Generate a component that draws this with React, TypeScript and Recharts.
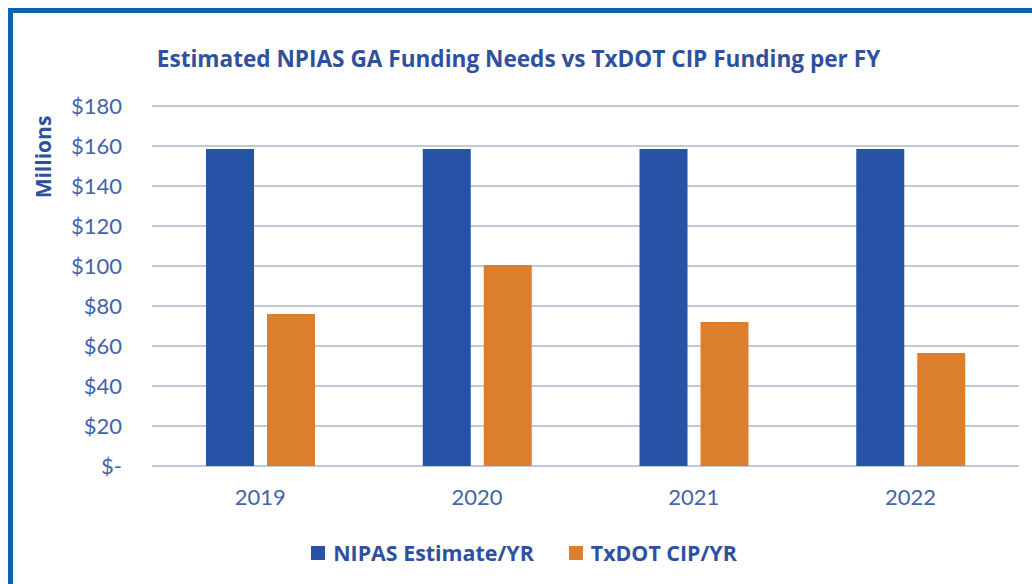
import React from 'react';
import { BarChart, Bar, XAxis, YAxis, CartesianGrid } from 'recharts';

const years = ['2019', '2020', '2021', '2022'];
const npiasEstimate = [158.5, 158.5, 158.5, 158.5];
const txdotCip = [76, 100.5, 72, 56.5];
const yTicks = [0, 20, 40, 60, 80, 100, 120, 140, 160, 180];
const seriesNames = ['NIPAS Estimate/YR', 'TxDOT CIP/YR'];

const data = years.map((year, i) => ({
  year,
  npias: npiasEstimate[i],
  txdot: txdotCip[i]
}));

const TICK_FONT = 'Lato, "Open Sans", sans-serif';
const BOLD_FONT = '"Open Sans", Lato, sans-serif';
const BLUE = '#2653A5';
const ORANGE = '#DB7F2E';
const TEXT_BLUE = '#2E509E';
const TICK_BLUE = '#4563A9';
const seriesColors = [BLUE, ORANGE];

const formatMoney = (v: number) => (v === 0 ? '$-' : `$${v}`);

const boldText: React.CSSProperties = {
  fontFamily: BOLD_FONT,
  fontWeight: 700,
  fontSize: 20,
  color: TEXT_BLUE,
  whiteSpace: 'nowrap'
};

export default function App() {
  return (
    <div
      style={{
        position: 'absolute',
        left: 0,
        top: 0,
        width: 1032,
        height: 584,
        overflow: 'hidden',
        background: '#fff'
      }}
    >
      <div
        style={{
          position: 'absolute',
          left: 8,
          top: 8,
          right: 0,
          bottom: 0,
          borderTop: '5px solid #0D63B1',
          borderLeft: '5px solid #0D63B1'
        }}
      />
      <div
        style={{
          ...boldText,
          fontSize: 22.6,
          position: 'absolute',
          left: 0,
          top: 43,
          width: 1037,
          textAlign: 'center'
        }}
      >
        Estimated NPIAS GA Funding Needs vs TxDOT CIP Funding per FY
      </div>
      <div
        style={{
          ...boldText,
          fontSize: 21,
          position: 'absolute',
          left: 43,
          top: 157,
          transform: 'translate(-50%, -50%) rotate(-90deg)'
        }}
      >
        Millions
      </div>
      <div style={{ position: 'absolute', left: 0, top: 0 }}>
        <BarChart
          width={1032}
          height={584}
          data={data}
          margin={{ top: 106, right: 13, left: 60, bottom: 58 }}
          barSize={48}
          barGap={13}
        >
          <CartesianGrid
            horizontal={true}
            vertical={false}
            stroke="#C3C8D8"
            strokeWidth={2}
          />
          <XAxis
            dataKey="year"
            axisLine={false}
            tickLine={false}
            tickSize={0}
            tickMargin={23}
            height={60}
            tick={{ fontFamily: TICK_FONT, fontSize: 22, fill: TICK_BLUE }}
          />
          <YAxis
            domain={[0, 180]}
            ticks={yTicks}
            interval={0}
            width={92}
            axisLine={false}
            tickLine={false}
            tickSize={0}
            tickMargin={30}
            tickFormatter={formatMoney}
            tick={{ fontFamily: TICK_FONT, fontSize: 22, fill: TICK_BLUE }}
          />
          <Bar dataKey="npias" name={seriesNames[0]} fill={BLUE} isAnimationActive={false} />
          <Bar dataKey="txdot" name={seriesNames[1]} fill={ORANGE} isAnimationActive={false} />
        </BarChart>
      </div>
      <div
        style={{
          position: 'absolute',
          left: 0,
          top: 538,
          width: 1048,
          display: 'flex',
          justifyContent: 'center',
          gap: 35
        }}
      >
        {seriesNames.map((name, i) => (
          <div key={name} style={{ display: 'flex', alignItems: 'center' }}>
            <span
              style={{
                display: 'inline-block',
                width: 14,
                height: 14,
                background: seriesColors[i],
                marginRight: 8
              }}
            />
            <span style={{ ...boldText, fontSize: 21.4 }}>{name}</span>
          </div>
        ))}
      </div>
    </div>
  );
}
